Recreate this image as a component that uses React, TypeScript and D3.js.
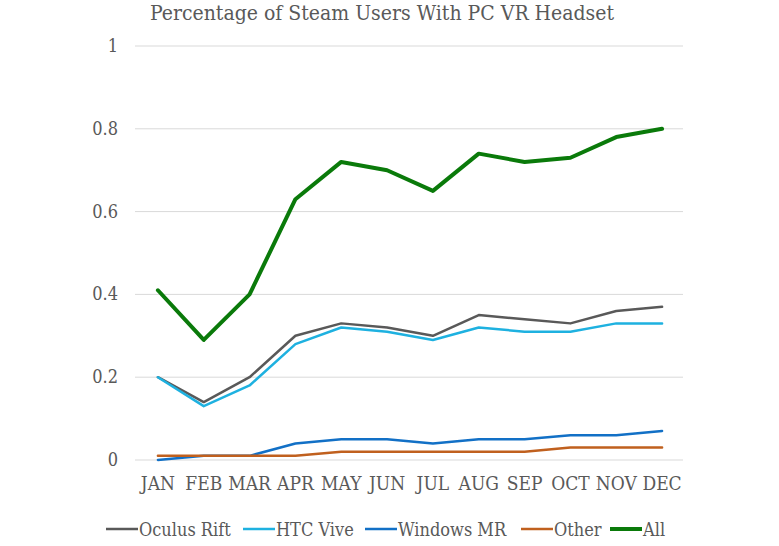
import { useRef, useEffect } from 'react';
import * as d3 from 'd3';

const months = ['JAN', 'FEB', 'MAR', 'APR', 'MAY', 'JUN', 'JUL', 'AUG', 'SEP', 'OCT', 'NOV', 'DEC'];
const yTicks = [0, 0.2, 0.4, 0.6, 0.8, 1];

const oculusRift = [0.20, 0.14, 0.20, 0.30, 0.33, 0.32, 0.30, 0.35, 0.34, 0.33, 0.36, 0.37];
const htcVive = [0.20, 0.13, 0.18, 0.28, 0.32, 0.31, 0.29, 0.32, 0.31, 0.31, 0.33, 0.33];
const windowsMR = [0.00, 0.01, 0.01, 0.04, 0.05, 0.05, 0.04, 0.05, 0.05, 0.06, 0.06, 0.07];
const other = [0.01, 0.01, 0.01, 0.01, 0.02, 0.02, 0.02, 0.02, 0.02, 0.03, 0.03, 0.03];
const all = [0.41, 0.29, 0.40, 0.63, 0.72, 0.70, 0.65, 0.74, 0.72, 0.73, 0.78, 0.80];

const series = [
    { name: 'Oculus Rift', values: oculusRift, color: '#595959', width: 2.5 },
    { name: 'HTC Vive', values: htcVive, color: '#1eb1e0', width: 2.5 },
    { name: 'Windows MR', values: windowsMR, color: '#1270c6', width: 2.5 },
    { name: 'Other', values: other, color: '#c0601e', width: 2.5 },
    { name: 'All', values: all, color: '#0a7a0a', width: 4 },
];

const FONT = '"DejaVu Serif Condensed", "DejaVu Serif", serif';
const TEXT = '#595959';

export default function App() {
    const svgRef = useRef<SVGSVGElement>(null);

    useEffect(() => {
        if (!svgRef.current) return;
        const width = 779;
        const height = 546;
        const svg = d3.select(svgRef.current);
        svg.selectAll('*').remove();

        const x = d3.scaleBand<string>().domain(months).range([135, 685]);
        const y = d3.scaleLinear().domain([0, 1]).range([460, 46]);

        svg.append('rect').attr('width', width).attr('height', height).attr('fill', '#fff');

        const styleText = (sel: any, size: number) =>
            sel.attr('fill', TEXT)
                .attr('font-family', FONT)
                .attr('font-stretch', 'condensed')
                .attr('font-size', size);

        // Title
        svg.append('text')
            .attr('x', 382)
            .attr('y', 20)
            .attr('text-anchor', 'middle')
            .call(styleText, 21)
            .text('Percentage of Steam Users With PC VR Headset');

        // Grid lines
        svg.append('g')
            .selectAll('line')
            .data(yTicks)
            .enter()
            .append('line')
            .attr('x1', 135)
            .attr('x2', 683)
            .attr('y1', d => y(d))
            .attr('y2', d => y(d))
            .attr('stroke', '#d9d9d9')
            .attr('stroke-width', 1);

        // Y labels
        svg.append('g')
            .selectAll('text')
            .data(yTicks)
            .enter()
            .append('text')
            .attr('x', 118)
            .attr('y', d => y(d) + 6)
            .attr('text-anchor', 'end')
            .call(styleText, 18)
            .text(d => String(d));

        // X labels
        svg.append('g')
            .selectAll('text')
            .data(months)
            .enter()
            .append('text')
            .attr('x', d => (x(d) ?? 0) + x.bandwidth() / 2)
            .attr('y', 490)
            .attr('text-anchor', 'middle')
            .call(styleText, 19)
            .text(d => d);

        const line = d3.line<number>()
            .x((_, i) => (x(months[i]) ?? 0) + x.bandwidth() / 2)
            .y(d => y(d));

        series.forEach(s => {
            svg.append('path')
                .datum(s.values)
                .attr('fill', 'none')
                .attr('stroke', s.color)
                .attr('stroke-width', s.width)
                .attr('stroke-linejoin', 'round')
                .attr('stroke-linecap', 'round')
                .attr('d', line);
        });

        // Legend
        const legendX = [106, 243, 365, 521, 610];
        const lg = svg.append('g');
        series.forEach((s, i) => {
            lg.append('line')
                .attr('x1', legendX[i])
                .attr('x2', legendX[i] + 32)
                .attr('y1', 529)
                .attr('y2', 529)
                .attr('stroke', s.color)
                .attr('stroke-width', s.width);
            lg.append('text')
                .attr('x', legendX[i] + 33)
                .attr('y', 536)
                .call(styleText, 18)
                .text(s.name);
        });
    }, []);

    return (
        <svg
            ref={svgRef}
            width={779}
            height={546}
            style={{ position: 'absolute', left: 0, top: 0 }}
        />
    );
}
